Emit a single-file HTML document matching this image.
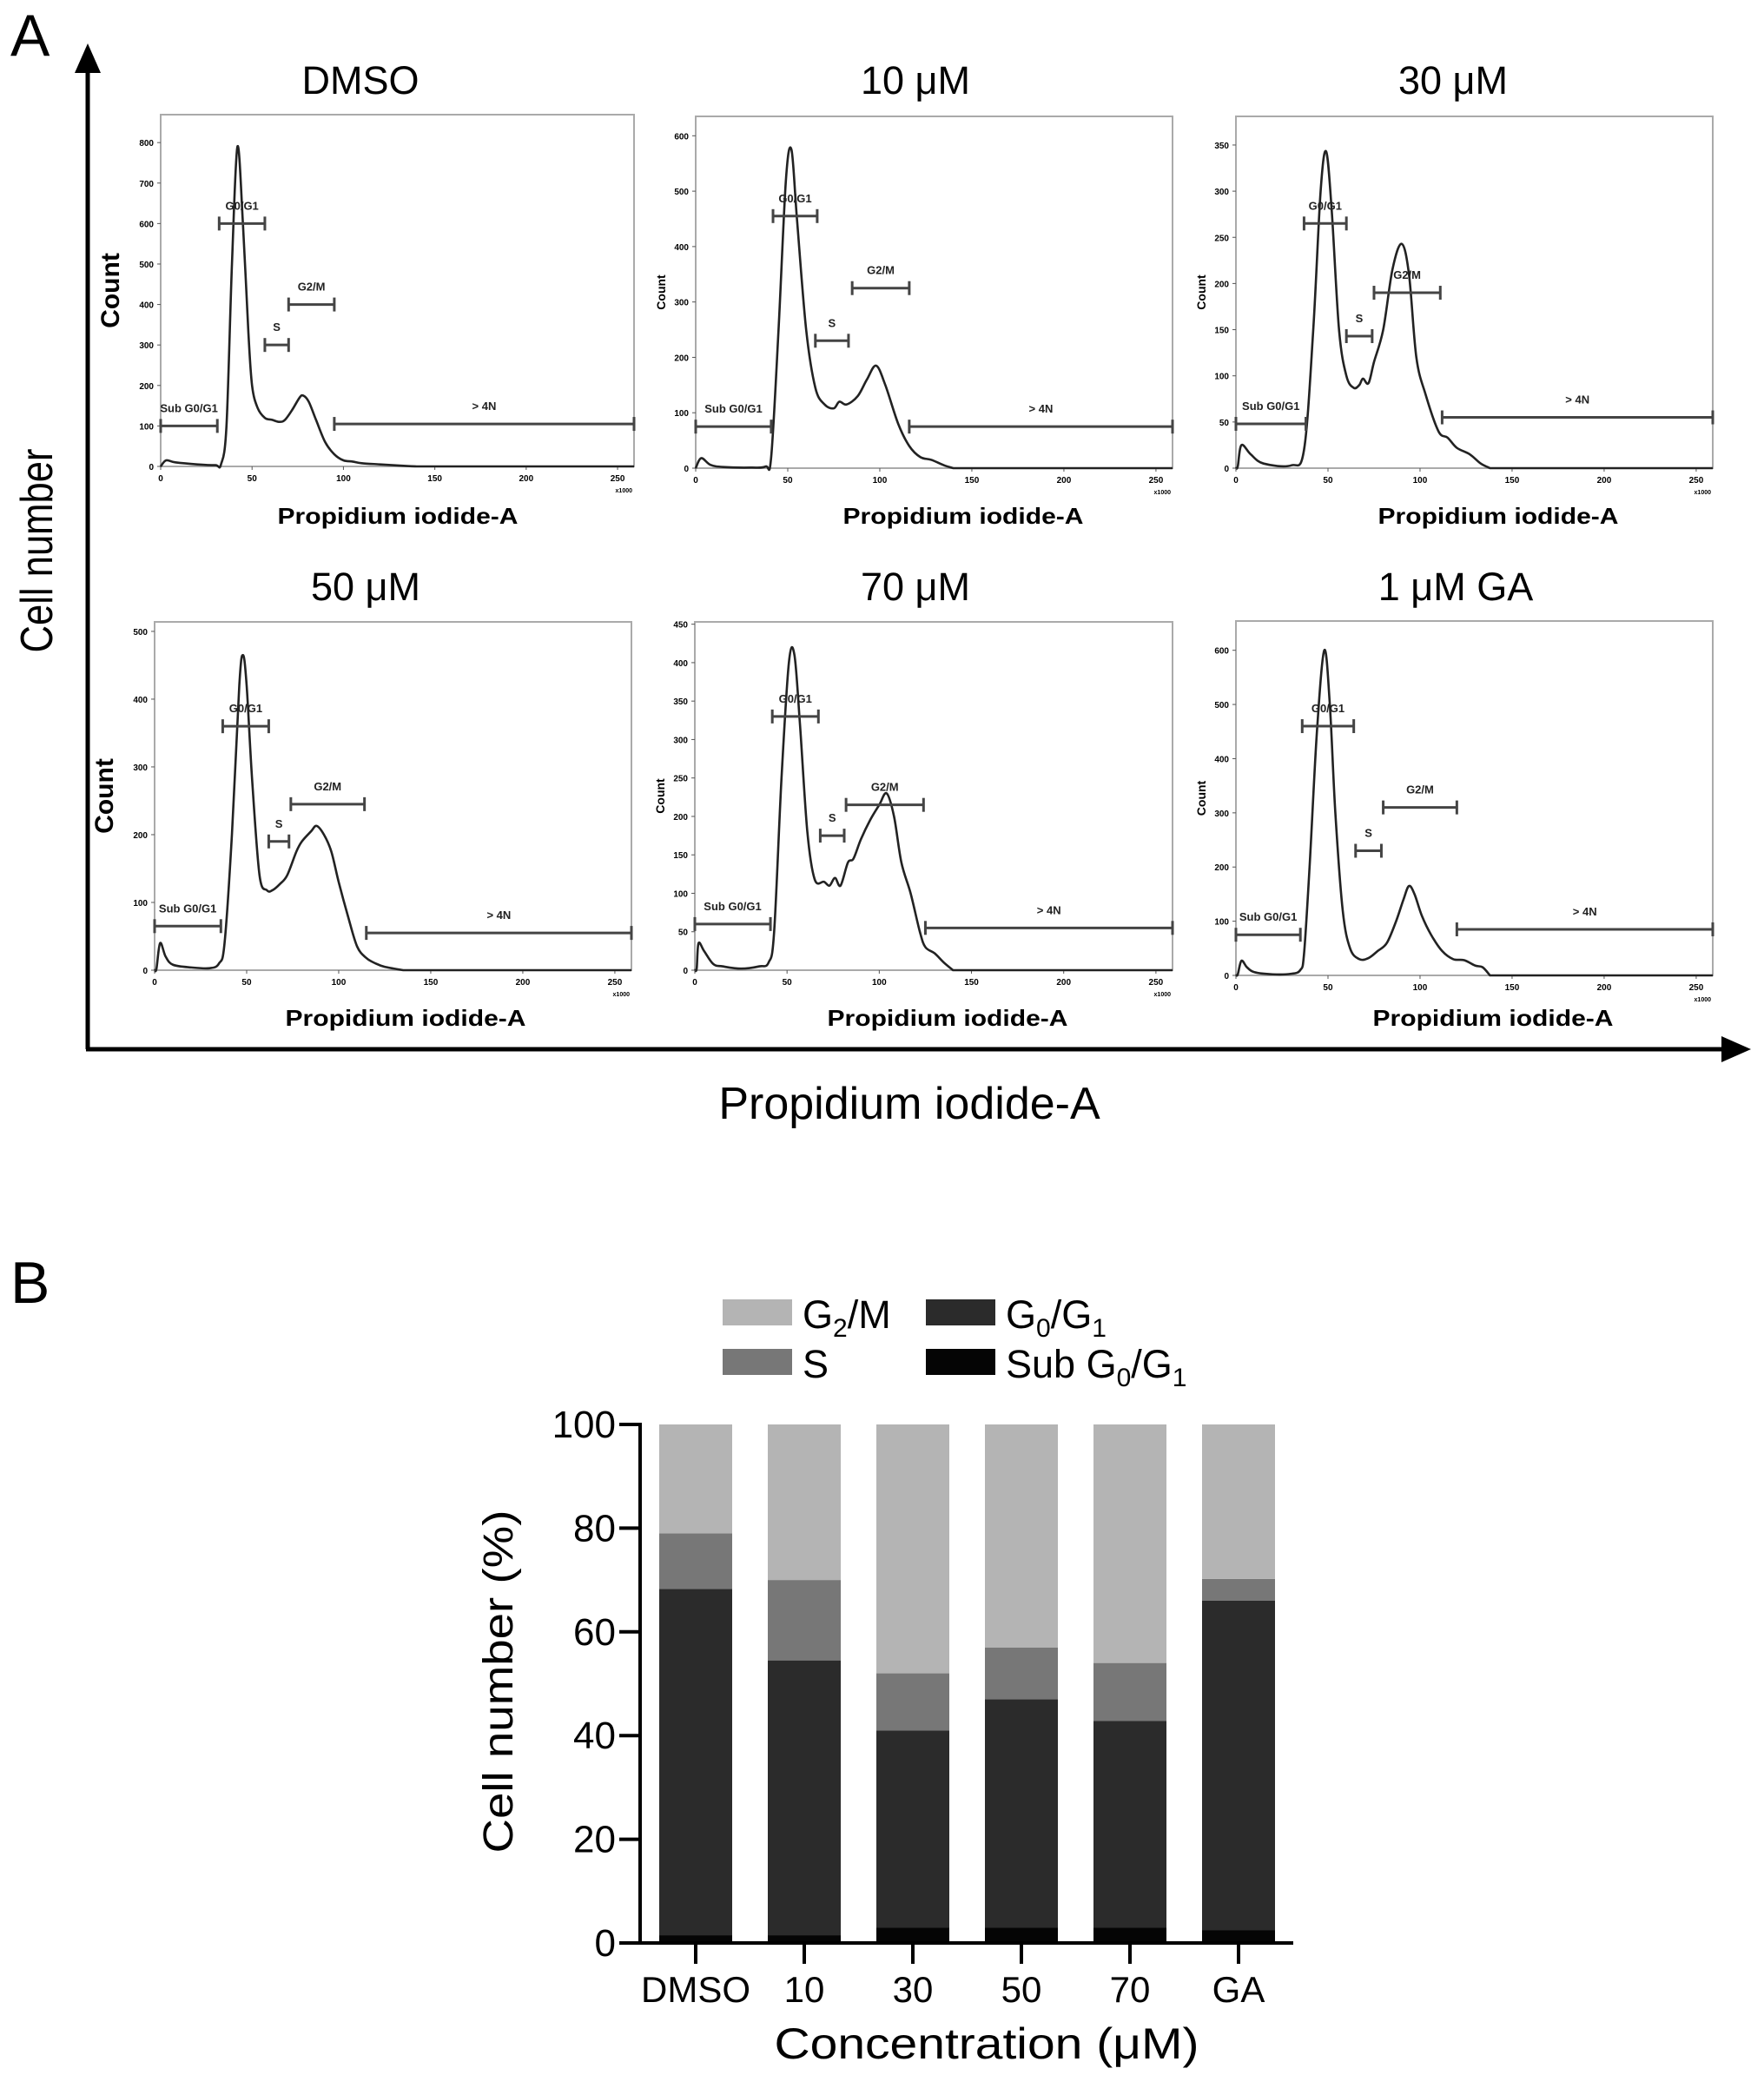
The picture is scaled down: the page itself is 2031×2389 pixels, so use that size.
<!DOCTYPE html>
<html><head><meta charset="utf-8">
<style>
html,body{margin:0;padding:0;background:#fff;}
svg{display:block;font-family:"Liberation Sans",sans-serif;}
</style></head>
<body>
<svg id="fig" width="2031" height="2389" viewBox="0 0 2031 2389" xmlns="http://www.w3.org/2000/svg">
  <text x="12" y="64" font-size="68">A</text>
  <text x="12" y="1500" font-size="68">B</text>
  <line x1="101" y1="1208" x2="101" y2="80" stroke="#000" stroke-width="5"/>
  <polygon points="101,50 86,84 116,84" fill="#000"/>
  <line x1="99" y1="1208" x2="1990" y2="1208" stroke="#000" stroke-width="5"/>
  <polygon points="2016,1208 1982,1193 1982,1223" fill="#000"/>
  <text x="0" y="0" transform="translate(60,634) rotate(-90)" text-anchor="middle" font-size="52" textLength="235" lengthAdjust="spacingAndGlyphs">Cell number</text>
  <text x="1047" y="1288" text-anchor="middle" font-size="52">Propidium iodide-A</text>
  <g id="hists"></g>
  <g id="barchart"></g>
</svg>
<script>
// ---------- Panel A data ----------
const panelTitles = ["DMSO","10 \u03bcM","30 \u03bcM","50 \u03bcM","70 \u03bcM","1 \u03bcM GA"];
const yTickMax = [800,600,350,500,450,600];
const yTickStep = [100,100,50,100,50,100];
const curveX0 = [0,3,8,20,30,33,36,39,42,45,48,50,53,57,61,65,68,72,76,78,81,85,90,95,100,105,110,120,135,140];
const curveY0 = [0,15,10,5,3,5,100,500,790,600,330,200,145,120,115,110,115,140,170,175,160,115,60,30,15,12,8,5,1,0];
const curveX1 = [0,3,8,15,30,38,41,45,49,52,55,60,65,70,75,78,82,88,93,98,103,110,116,122,128,135,140];
const curveY1 = [0,18,6,2,1,3,20,250,520,575,450,250,145,115,108,120,115,130,160,185,150,80,40,20,15,5,0];
const curveX2 = [0,1,3,8,15,30,37,42,46,49,52,56,60,64,67,69,72,75,80,85,90,94,98,103,110,115,120,127,133,138];
const curveY2 = [0,2,25,15,5,3,20,150,300,343,280,150,100,87,90,97,92,115,150,215,243,210,120,80,40,33,22,15,5,0];
const curveX3 = [0,1,3,6,10,20,30,35,38,42,46,48,50,53,57,61,64,68,72,77,80,85,88,92,96,100,105,110,115,120,125,135];
const curveY3 = [0,2,40,20,8,4,3,10,40,200,420,465,420,280,140,118,118,127,140,175,190,205,213,200,175,130,80,35,18,10,5,0];
const curveX4 = [0,1,2,5,10,15,25,35,40,43,47,51,54,57,61,65,70,73,76,79,83,86,90,95,100,104,108,112,117,122,125,130,135,140];
const curveY4 = [0,2,35,25,8,5,2,5,10,50,250,400,410,320,180,118,115,110,120,110,140,145,170,195,215,230,200,140,100,50,30,22,10,0];
const curveX5 = [0,1,3,6,10,20,30,35,37,40,44,48,51,54,58,62,67,72,77,82,87,91,94,97,101,106,112,118,124,130,134,138];
const curveY5 = [0,2,27,15,6,2,3,10,40,200,450,600,500,300,120,50,30,32,45,60,100,140,165,150,110,75,45,30,28,18,15,0];
const curveXs = [curveX0,curveX1,curveX2,curveX3,curveX4,curveX5];
const curveYs = [curveY0,curveY1,curveY2,curveY3,curveY4,curveY5];
const gateNames = ["Sub G0/G1","G0/G1","S","G2/M","> 4N"];
const gateStart0 = [0,32,57,70,95],  gateEnd0 = [31,57,70,95,262], gateLevel0 = [100,600,300,400,105];
const gateStart1 = [0,42,65,85,116], gateEnd1 = [41,66,83,116,262], gateLevel1 = [75,455,230,325,75];
const gateStart2 = [0,37,60,75,112], gateEnd2 = [38,60,74,111,262], gateLevel2 = [48,265,143,190,55];
const gateStart3 = [0,37,62,74,115], gateEnd3 = [36,62,73,114,262], gateLevel3 = [65,360,190,245,55];
const gateStart4 = [0,42,68,82,125], gateEnd4 = [41,67,81,124,262], gateLevel4 = [60,330,175,215,55];
const gateStart5 = [0,36,65,80,120], gateEnd5 = [35,64,79,120,262], gateLevel5 = [75,460,230,310,85];
const gateStarts=[gateStart0,gateStart1,gateStart2,gateStart3,gateStart4,gateStart5];
const gateEnds=[gateEnd0,gateEnd1,gateEnd2,gateEnd3,gateEnd4,gateEnd5];
const gateLevels=[gateLevel0,gateLevel1,gateLevel2,gateLevel3,gateLevel4,gateLevel5];
const xTicks = [0,50,100,150,200,250];

// ---------- Panel B data ----------
const categories = ["DMSO","10","30","50","70","GA"];
const subG0G1 = [1.5,1.5,3,3,3,2.5];
const g0g1 = [66.8,53,38,44,39.8,63.5];
const sPhase = [10.7,15.5,11,10,11.2,4.2];
const g2m = [21,30,48,43,46,29.8];
const yTicksB = [0,20,40,60,80,100];

const NS="http://www.w3.org/2000/svg";
function mk(tag, attrs, parent){const e=document.createElementNS(NS,tag);for(const k in attrs)e.setAttribute(k,attrs[k]);parent.appendChild(e);return e;}

const boxes=[[185,132,730,537],[801,134,1350,539],[1423,134,1972,539],[178,716,727,1117],[800,716,1350,1117],[1423,715,1972,1123]];
const titleX=[415,1054,1673,421,1054,1676], titleY=[108,108,108,691,691,691];
const labelX=[458,1109,1725,467,1091,1719], labelY=[603,603,603,1181,1181,1181];
const topVal=[869,635,381,514,453,654];
const bigCount=[true,false,false,true,false,false];
const XMAX=259;

const hg=document.getElementById('hists');
for(let p=0;p<6;p++){
  const [x0,y0,x1,y1]=boxes[p];
  const g=mk('g',{},hg);
  
  
  const sx=v=>x0+(v/XMAX)*(x1-x0);
  const sy=v=>y1-(v/topVal[p])*(y1-y0);
  const r=mk('rect',{x:x0,y:y0,width:x1-x0,height:y1-y0,fill:'none',stroke:'#aaa','stroke-width':2},g);
  
  
  const t=mk('text',{x:titleX[p],y:titleY[p],'text-anchor':'middle','font-size':45},g);
  t.textContent=panelTitles[p];
  
  
  const xl=mk('text',{x:labelX[p],y:labelY[p],'text-anchor':'middle','font-size':26,'font-weight':'bold',textLength:277,lengthAdjust:'spacingAndGlyphs'},g);
  xl.textContent='Propidium iodide-A';
  
  
  const cx=bigCount[p]?x0-48:x0-35, cy=(y0+y1)/2;
  const cl=mk('text',{x:0,y:0,transform:`translate(${cx},${cy}) rotate(-90)`,'text-anchor':'middle','font-size':bigCount[p]?30:14,'font-weight':'bold'},g);
  cl.textContent='Count';
  
  
  for(let v=0;v<=yTickMax[p];v+=yTickStep[p]){
    const tl=mk('text',{x:x0-8,y:sy(v)+4,'text-anchor':'end','font-size':10,'font-weight':'bold'},g);
    tl.textContent=v;
    
    
    mk('line',{x1:x0-4,y1:sy(v),x2:x0,y2:sy(v),stroke:'#555','stroke-width':1},g);
  }
  xTicks.forEach(v=>{
    const tl=mk('text',{x:sx(v),y:y1+17,'text-anchor':'middle','font-size':10,'font-weight':'bold'},g);
    tl.textContent=v;
    
    
    mk('line',{x1:sx(v),y1:y1,x2:sx(v),y2:y1+4,stroke:'#555','stroke-width':1},g);
  });
  const xm=mk('text',{x:x1-2,y:y1+30,'text-anchor':'end','font-size':7,'font-weight':'bold'},g);
  xm.textContent='x1000';
  
  
  const X=curveXs[p],Y=curveYs[p];
  const pts=X.map((v,i)=>[sx(v),sy(Y[i])]);
  let d=`M${pts[0][0]},${pts[0][1]}`;
  for(let i=0;i<pts.length-1;i++){
    const p0=pts[Math.max(0,i-1)],p1=pts[i],p2=pts[i+1],p3=pts[Math.min(pts.length-1,i+2)];
    const c1=[p1[0]+(p2[0]-p0[0])/6,p1[1]+(p2[1]-p0[1])/6];
    const c2=[p2[0]-(p3[0]-p1[0])/6,p2[1]-(p3[1]-p1[1])/6];
    d+=` C${c1[0]},${c1[1]} ${c2[0]},${c2[1]} ${p2[0]},${p2[1]}`;
  }
  d+=` L${sx(XMAX)},${y1}`;
  const path=mk('path',{d:d,fill:'none',stroke:'#222','stroke-width':2.6},g);
  
  
  for(let k=0;k<5;k++){
    const a=sx(gateStarts[p][k]),b=Math.min(sx(gateEnds[p][k]),x1),yy=sy(gateLevels[p][k]);
    const gg=mk('g',{stroke:'#444','stroke-width':3},g);
    
    
    mk('line',{x1:a,y1:yy,x2:b,y2:yy},gg);
    mk('line',{x1:a,y1:yy-8,x2:a,y2:yy+8},gg);
    mk('line',{x1:b,y1:yy-8,x2:b,y2:yy+8},gg);
    const gl=mk('text',{x:(a+b)/2,y:yy-16,'text-anchor':'middle','font-size':13,'font-weight':'bold',fill:'#222'},g);
    gl.textContent=gateNames[k];
    
    
  }
}

// ---------- Panel B ----------
const bg=document.getElementById('barchart');
const AX=737, Y0=2237, Y100=1640, XEND=1489;
const yB=v=>Y0-(v/100)*(Y0-Y100);
const barCenter=i=>801+i*125;
const BW=84;
const colors={sub:'#050505',g0:'#2b2b2b',s:'#777',g2:'#b4b4b4'};
categories.forEach((c,i)=>{
  let base=0;
  const segs=[[subG0G1[i],colors.sub,'sub-g0g1'],[g0g1[i],colors.g0,'g0g1'],[sPhase[i],colors.s,'s-phase'],[g2m[i],colors.g2,'g2m']];
  segs.forEach(([v,col,nm])=>{
    const r=mk('rect',{x:barCenter(i)-BW/2,y:yB(base+v),width:BW,height:yB(base)-yB(base+v),fill:col},bg);
    
    
    base+=v;
  });
  mk('line',{x1:barCenter(i),y1:Y0,x2:barCenter(i),y2:Y0+24,stroke:'#000','stroke-width':4},bg);
  const tl=mk('text',{x:barCenter(i),y:2305,'text-anchor':'middle','font-size':42},bg);
  tl.textContent=c;
  
  
});
const ax=mk('line',{x1:AX,y1:Y100-2,x2:AX,y2:Y0+2,stroke:'#000','stroke-width':4},bg);


const xa=mk('line',{x1:AX-2,y1:Y0,x2:XEND,y2:Y0,stroke:'#000','stroke-width':4},bg);


yTicksB.forEach(v=>{
  mk('line',{x1:AX-24,y1:yB(v),x2:AX,y2:yB(v),stroke:'#000','stroke-width':4},bg);
  const tl=mk('text',{x:AX-28,y:yB(v)+15,'text-anchor':'end','font-size':44},bg);
  tl.textContent=v;
  
  
});
const yt=mk('text',{x:0,y:0,transform:'translate(590,1936) rotate(-90)','text-anchor':'middle','font-size':48,textLength:395,lengthAdjust:'spacingAndGlyphs'},bg);
yt.textContent='Cell number (%)';


const xt=mk('text',{x:1136,y:2370,'text-anchor':'middle','font-size':50,textLength:489,lengthAdjust:'spacingAndGlyphs'},bg);
xt.textContent='Concentration (\u03bcM)';


const legend=[[832,1496,colors.g2,'G','2','/M','','legend-g2m'],[1066,1496,colors.g0,'G','0','/G','1','legend-g0g1'],[832,1553,colors.s,'S','','','','legend-s'],[1066,1553,colors.sub,'Sub G','0','/G','1','legend-sub-g0g1']];
legend.forEach(([lx,ly,col,a,b,c2,d2,nm])=>{
  const lg=mk('g',{},bg);
  
  
  mk('rect',{x:lx,y:ly,width:80,height:30,fill:col},lg);
  const t=mk('text',{x:lx+92,y:ly+33,'font-size':45},lg);
  t.appendChild(document.createTextNode(a));
  if(b){const s=mk('tspan',{'font-size':30,dy:10},t);s.textContent=b;}
  if(c2){const s=mk('tspan',{dy:-10},t);s.textContent=c2;}
  if(d2){const s=mk('tspan',{'font-size':30,dy:10},t);s.textContent=d2;}
});
</script>
</body></html>
